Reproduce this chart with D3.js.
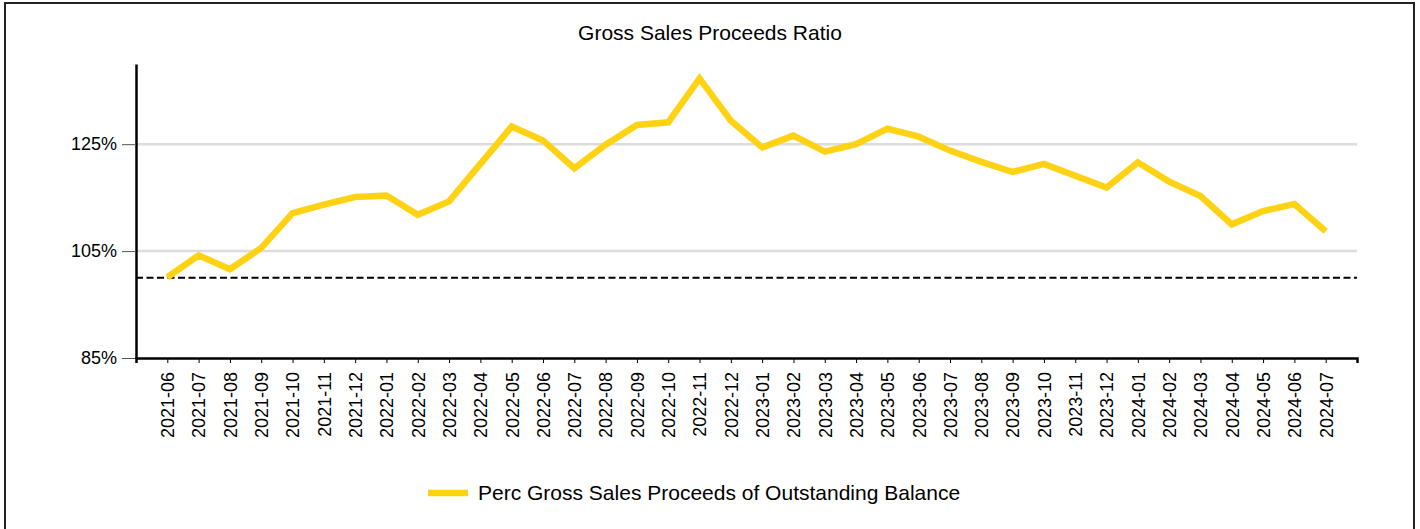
<!DOCTYPE html>
<html>
<head>
<meta charset="utf-8">
<script src="https://cdn.jsdelivr.net/npm/d3@7"></script>
<style>
  body { margin: 0; background: #fff; }
  svg { display: block; font-family: "Liberation Sans", Arial, sans-serif; }
</style>
</head>
<body>
<div id="chart"></div>
<script>
// months on the x axis
const months = [
  "2021-06","2021-07","2021-08","2021-09","2021-10","2021-11","2021-12",
  "2022-01","2022-02","2022-03","2022-04","2022-05","2022-06","2022-07","2022-08","2022-09","2022-10","2022-11","2022-12",
  "2023-01","2023-02","2023-03","2023-04","2023-05","2023-06","2023-07","2023-08","2023-09","2023-10","2023-11","2023-12",
  "2024-01","2024-02","2024-03","2024-04","2024-05","2024-06","2024-07"
];
// Perc Gross Sales Proceeds of Outstanding Balance (%)
const ratio = [
  100.1, 104.2, 101.6, 105.6, 112.1, 113.7, 115.1,
  115.4, 111.8, 114.3, 121.3, 128.3, 125.7, 120.5, 124.9, 128.6, 129.1, 137.3, 129.4,
  124.4, 126.6, 123.6, 125.0, 127.9, 126.4, 123.8, 121.7, 119.8, 121.3, 119.1, 116.9,
  121.6, 118.0, 115.3, 110.0, 112.5, 113.8, 108.7
];
const yTicks = [85, 105, 125];
const refValue = 100;
const title = "Gross Sales Proceeds Ratio";
const seriesName = "Perc Gross Sales Proceeds of Outstanding Balance";

const W = 1420, H = 529;
const plotLeft = 136, plotRight = 1357, plotTop = 64, plotBottom = 358;
const yellow = "#ffd314";

const svg = d3.select("#chart").append("svg")
    .attr("width", W)
    .attr("height", H);

// outer frame
svg.append("rect")
   .attr("x", 5).attr("y", 3)
   .attr("width", 1409).attr("height", 560)
   .attr("fill", "none")
   .attr("stroke", "#222")
   .attr("stroke-width", 2);

svg.append("text")
   .attr("x", W / 2)
   .attr("y", 40)
   .attr("text-anchor", "middle")
   .attr("font-size", 21)
   .attr("fill", "#000")
   .text(title);

const x = d3.scalePoint().domain(months).range([plotLeft, plotRight]).padding(1);
const y = d3.scaleLinear().domain([85, 140]).range([plotBottom, plotTop]);

// gridlines
svg.append("g")
   .selectAll("line")
   .data(yTicks.slice(1))
   .join("line")
   .attr("x1", plotLeft).attr("x2", plotRight)
   .attr("y1", d => y(d)).attr("y2", d => y(d))
   .attr("stroke", "#dcdcdc")
   .attr("stroke-width", 2.5);

// reference line at 100%
svg.append("line")
   .attr("x1", plotLeft).attr("x2", plotRight)
   .attr("y1", y(refValue)).attr("y2", y(refValue))
   .attr("stroke", "#000")
   .attr("stroke-width", 2)
   .attr("stroke-dasharray", "7,3.5");

// y axis
const yAxis = svg.append("g")
   .attr("transform", `translate(${plotLeft},0)`)
   .call(d3.axisLeft(y).tickValues(yTicks).tickFormat(d => d + "%").tickSize(14).tickSizeOuter(0).tickPadding(5));
yAxis.select(".domain").attr("stroke", "#000").attr("stroke-width", 2.5);
yAxis.selectAll(".tick line").attr("stroke", "#555");
yAxis.selectAll(".tick text").attr("font-size", 18).attr("fill", "#000").attr("font-family", "Liberation Sans, Arial, sans-serif");

// x axis
const xAxis = svg.append("g")
   .attr("transform", `translate(0,${plotBottom})`)
   .call(d3.axisBottom(x).tickSize(5).tickSizeOuter(5).tickPadding(9));
xAxis.select(".domain").attr("stroke", "#000").attr("stroke-width", 2.5);
xAxis.selectAll(".tick line").attr("stroke", "#000");
xAxis.selectAll(".tick text")
     .attr("font-size", 18)
     .attr("fill", "#000")
     .attr("font-family", "Liberation Sans, Arial, sans-serif")
     .attr("text-anchor", "end")
     .attr("transform", "rotate(-90)")
     .attr("x", -14)
     .attr("y", 0)
     .attr("dy", "0.35em");

// series line
const line = d3.line()
    .x((d, i) => x(months[i]))
    .y(d => y(d));

svg.append("path")
   .datum(ratio)
   .attr("d", line)
   .attr("fill", "none")
   .attr("stroke", yellow)
   .attr("stroke-width", 6.5);

// legend
svg.append("line")
   .attr("x1", 428).attr("x2", 468)
   .attr("y1", 493).attr("y2", 493)
   .attr("stroke", yellow)
   .attr("stroke-width", 6.5);

svg.append("text")
   .attr("x", 478)
   .attr("y", 500)
   .attr("font-size", 21)
   .attr("fill", "#000")
   .text(seriesName);
</script>
</body>
</html>
